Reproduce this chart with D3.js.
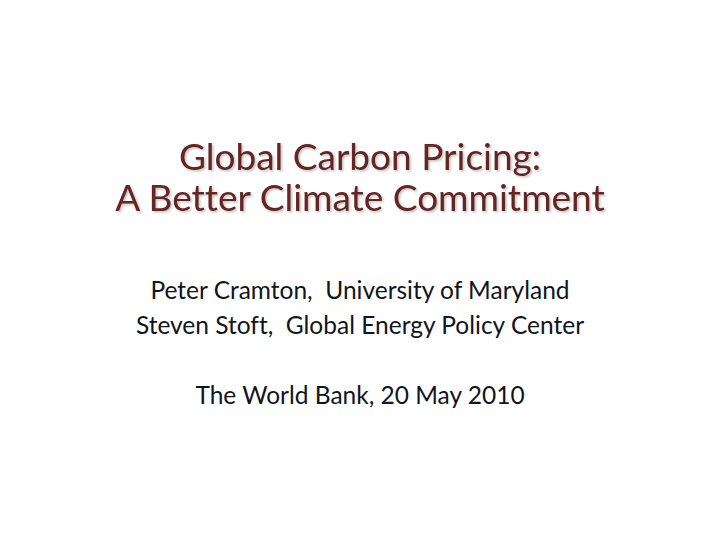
<!DOCTYPE html>
<html>
<head>
<meta charset="UTF-8">
<script src="https://cdn.jsdelivr.net/npm/d3@7"></script>
<style>body{margin:0;background:#fff} text{font-variant-ligatures:none}</style>
</head>
<body>
<script>
var titleLines = ["Global Carbon Pricing:", "A Better Climate Commitment"];
var bodyLines = ["Peter Cramton,  University of Maryland", "Steven Stoft,  Global Energy Policy Center", "", "The World Bank, 20 May 2010"];

var W = 720, H = 540;
var svg = d3.select("body").append("svg").attr("width", W).attr("height", H);

var defs = svg.append("defs");
var f = defs.append("filter").attr("id", "sh");
f.append("feDropShadow").attr("dx", 1.5).attr("dy", 1.5).attr("stdDeviation", 1)
  .attr("flood-color", "#000").attr("flood-opacity", 0.25);

var yTitle = d3.scaleLinear().domain([0, 1]).range([170, 211]);
svg.selectAll("text.title").data(titleLines).enter().append("text")
  .attr("class", "title")
  .attr("x", W / 2).attr("y", function(d, i){ return yTitle(i); })
  .attr("text-anchor", "middle")
  .attr("font-family", "Lato, 'Open Sans', sans-serif")
  .attr("font-size", 37)
  .attr("fill", "#632523")
  .attr("filter", "url(#sh)")
  .text(function(d){ return d; });

var yBody = d3.scaleLinear().domain([0, 1]).range([299, 334]);
svg.selectAll("text.body").data(bodyLines).enter().append("text")
  .attr("class", "body")
  .attr("x", W / 2).attr("y", function(d, i){ return yBody(i); })
  .attr("text-anchor", "middle")
  .attr("font-family", "Lato, 'Open Sans', sans-serif")
  .attr("font-size", 24.5)
  .attr("fill", "#10151c")
  .style("white-space", "pre")
  .text(function(d){ return d; });
</script>
</body>
</html>
